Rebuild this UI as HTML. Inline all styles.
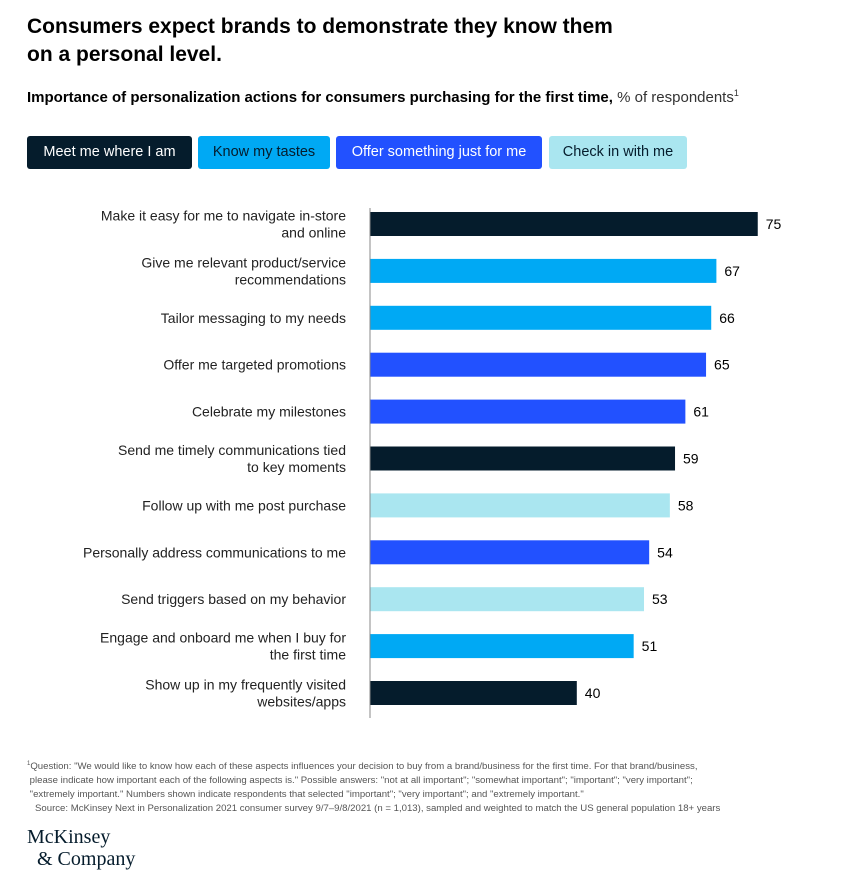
<!DOCTYPE html>
<html><head><meta charset="utf-8"><style>
body{margin:0;background:#fff;font-family:"Liberation Sans",sans-serif;color:#000;}
#page{position:relative;width:841px;height:889px;overflow:hidden;}
.t{position:absolute;white-space:nowrap;}
.leg{position:absolute;top:136px;height:33px;line-height:33px;font-size:14.5px;text-align:center;border-radius:3px;}
</style></head><body>
<div id="page">
<div class="t" style="left:27px;top:13px;font-size:21px;font-weight:bold;line-height:28px;">Consumers expect brands to demonstrate they know them<br>on a personal level.</div>
<div class="t" style="left:27px;top:88px;font-size:15px;"><b>Importance of personalization actions for consumers purchasing for the first time,</b> <span style="color:#333">% of respondents<sup style="font-size:9px">1</sup></span></div>
<div class="leg" style="left:27px;width:165px;background:#051c2c;color:#fff;">Meet me where I am</div>
<div class="leg" style="left:198px;width:132px;background:#00a9f4;color:#051c2c;">Know my tastes</div>
<div class="leg" style="left:336px;width:206px;background:#2251ff;color:#fff;">Offer something just for me</div>
<div class="leg" style="left:549px;width:138px;background:#aae6f0;color:#051c2c;">Check in with me</div>
<svg id="chart" width="841" height="889" style="position:absolute;left:0;top:0;" font-family="Liberation Sans, sans-serif"></svg>
<div class="t" style="left:27px;top:757px;font-size:9.6px;line-height:14px;color:#555;"><sup style="font-size:6px">1</sup>Question: "We would like to know how each of these aspects influences your decision to buy from a brand/business for the first time. For that brand/business,<br>&nbsp;please indicate how important each of the following aspects is." Possible answers: "not at all important"; "somewhat important"; "important"; "very important";<br>&nbsp;"extremely important." Numbers shown indicate respondents that selected "important"; "very important"; and "extremely important."<br>&nbsp;&nbsp;&nbsp;Source: McKinsey Next in Personalization 2021 consumer survey 9/7–9/8/2021 (n = 1,013), sampled and weighted to match the US general population 18+ years</div>
<div class="t" style="left:27px;top:826px;font-family:'Liberation Serif',serif;font-size:20px;line-height:22px;color:#051c2c;">McKinsey<br>&nbsp;&nbsp;&amp; Company</div>
</div>
<script>
const categories=[["Make it easy for me to navigate in-store","and online"],["Give me relevant product/service","recommendations"],["Tailor messaging to my needs"],["Offer me targeted promotions"],["Celebrate my milestones"],["Send me timely communications tied","to key moments"],["Follow up with me post purchase"],["Personally address communications to me"],["Send triggers based on my behavior"],["Engage and onboard me when I buy for","the first time"],["Show up in my frequently visited","websites/apps"]];
const values=[75,67,66,65,61,59,58,54,53,51,40];
const groups=[0,1,1,2,2,0,3,2,3,1,0];
const colors=["#051c2c","#00a9f4","#2251ff","#aae6f0"];
const svg=document.getElementById('chart');const NS="http://www.w3.org/2000/svg";
const x0=370,pxPer=5.17,y0=224,step=46.9,bh=24;
const xs=v=>x0+v*pxPer;const ys=i=>y0+i*step;
function mk(t,a){const e=document.createElementNS(NS,t);for(const k in a)e.setAttribute(k,a[k]);svg.appendChild(e);return e;}
values.forEach((v,i)=>{
 const r=mk('rect',{x:x0,y:ys(i)-bh/2,width:xs(v)-x0,height:bh,fill:colors[groups[i]]});
 
 
 const t=mk('text',{x:xs(v)+8,y:ys(i)+5,'font-size':14,fill:'#000'});t.textContent=v;
 
 
 const lines=categories[i];
 lines.forEach((l,j)=>{const c=mk('text',{x:346,y:ys(i)+5+(lines.length>1?(j-0.5)*17:0),'font-size':14,'text-anchor':'end',fill:'#222'});c.textContent=l;
 
 });
});
const ax=mk('line',{x1:x0,x2:x0,y1:208,y2:718,stroke:'#888','stroke-width':1});


</script>
</body></html>
